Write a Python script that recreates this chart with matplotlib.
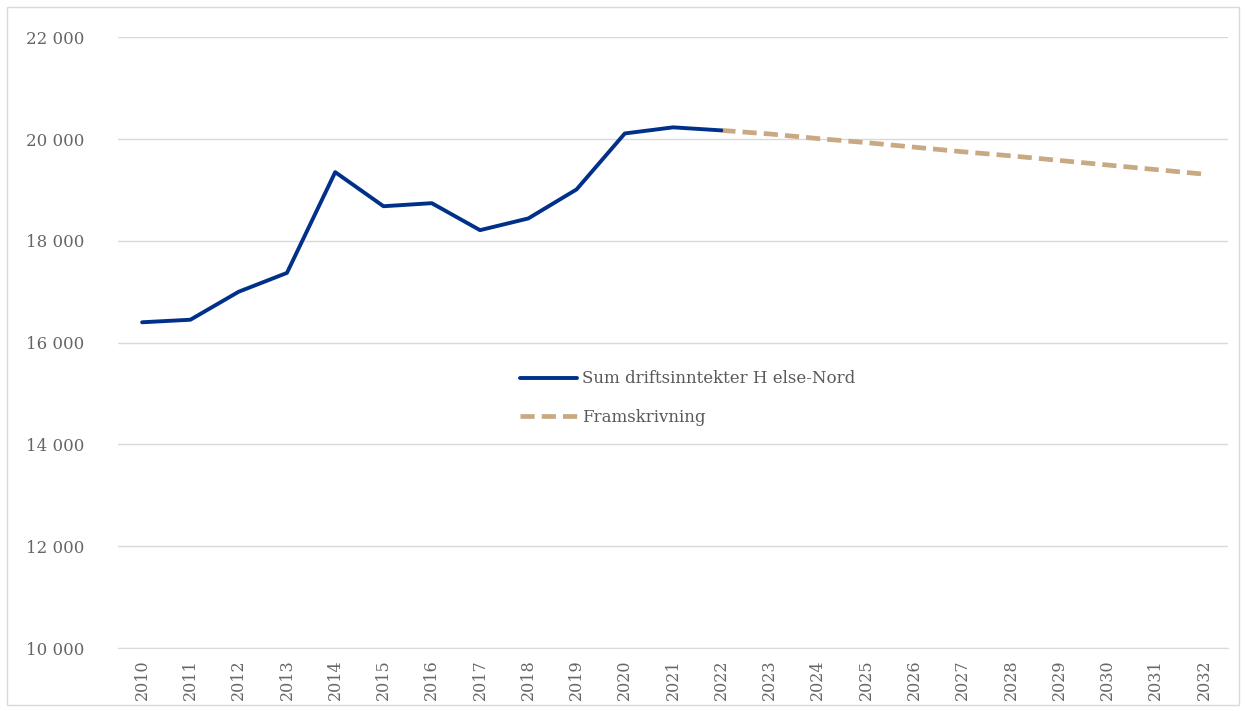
import numpy as np
from matplotlib import pyplot as plt
from matplotlib.patches import Rectangle

years = [str(y) for y in range(2010, 2033)]
hist_years = years[:13]
hist_vals = [16400, 16450, 17000, 17370, 19350, 18680, 18740, 18210, 18440, 19010, 20110, 20230, 20170]
proj_years = years[12:]
proj_vals = [20170, 20100, 20010, 19930, 19840, 19750, 19670, 19580, 19490, 19400, 19310]

plt.rcParams['font.family'] = ['DejaVu Serif']

fig = plt.figure(figsize=(12.46, 7.11), dpi=100)
ax = fig.add_axes([0.0947, 0.0886, 0.891, 0.859])

xi = {y: i for i, y in enumerate(years)}
ax.plot([xi[y] for y in hist_years], hist_vals, color='#003087', lw=2.8,
        solid_capstyle='round', label='Sum driftsinntekter H else-Nord', zorder=3)
ax.plot([xi[y] for y in proj_years], proj_vals, color='#C8A982', lw=3.4,
        dashes=(3.0, 1.5), label='Framskrivning', zorder=2)

ax.set_xlim(-0.5, len(years) - 0.5)
ax.set_ylim(10000, 22000)
ax.set_yticks(np.arange(10000, 22001, 2000))
ax.set_yticklabels([f'{v // 1000} 000' for v in range(10000, 22001, 2000)])
ax.set_xticks(range(len(years)))
ax.set_xticklabels(years, rotation=90)

ax.grid(axis='y', color='#d9d9d9', lw=1)
ax.set_axisbelow(True)
for s in ['top', 'right', 'left']:
    ax.spines[s].set_visible(False)
ax.spines['bottom'].set_color('#d9d9d9')
ax.tick_params(axis='both', length=0, colors='#666666')
ax.tick_params(axis='y', pad=24, labelsize=12)
ax.tick_params(axis='x', pad=8, labelsize=11.5)

leg = ax.legend(loc='upper left', bbox_to_anchor=(0.349, 0.479), frameon=False,
                fontsize=12, handlelength=3.4, handletextpad=0.3, labelspacing=1.3)
for t in leg.get_texts():
    t.set_color('#595959')

fig.patches.append(Rectangle((0.006, 0.008), 0.988, 0.982, transform=fig.transFigure,
                             fill=False, edgecolor='#d9d9d9', lw=1))

plt.savefig('out.png', dpi=100)
